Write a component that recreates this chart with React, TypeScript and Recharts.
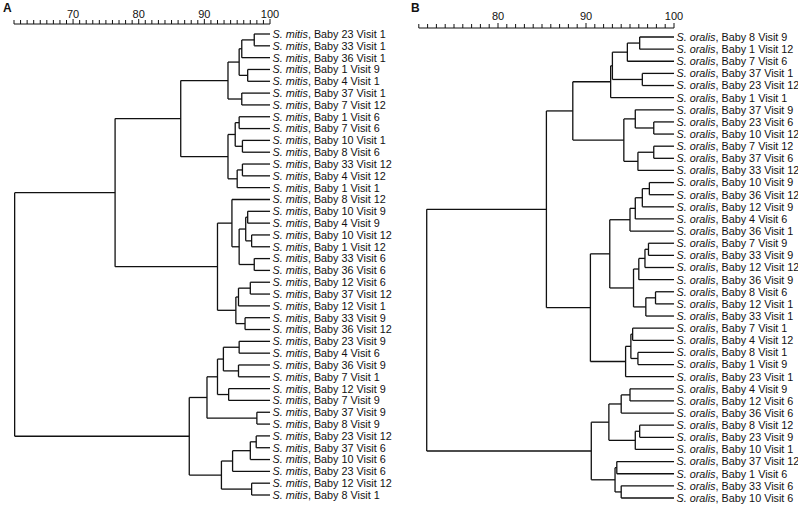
import React from 'react';
import { ScatterChart, Scatter, XAxis, YAxis, ReferenceLine } from 'recharts';

// ---------- Panel A: S. mitis ----------
const speciesA = 'S. mitis';
const leavesA = [
  'Baby 23 Visit 1', 'Baby 33 Visit 1', 'Baby 36 Visit 1', 'Baby 1 Visit 9', 'Baby 4 Visit 1',
  'Baby 37 Visit 1', 'Baby 7 Visit 12', 'Baby 1 Visit 6', 'Baby 7 Visit 6', 'Baby 10 Visit 1',
  'Baby 8 Visit 6', 'Baby 33 Visit 12', 'Baby 4 Visit 12', 'Baby 1 Visit 1', 'Baby 8 Visit 12',
  'Baby 10 Visit 9', 'Baby 4 Visit 9', 'Baby 10 Visit 12', 'Baby 1 Visit 12', 'Baby 33 Visit 6',
  'Baby 36 Visit 6', 'Baby 12 Visit 6', 'Baby 37 Visit 12', 'Baby 12 Visit 1', 'Baby 33 Visit 9',
  'Baby 36 Visit 12', 'Baby 23 Visit 9', 'Baby 4 Visit 6', 'Baby 36 Visit 9', 'Baby 7 Visit 1',
  'Baby 12 Visit 9', 'Baby 7 Visit 9', 'Baby 37 Visit 9', 'Baby 8 Visit 9', 'Baby 23 Visit 12',
  'Baby 37 Visit 6', 'Baby 10 Visit 6', 'Baby 23 Visit 6', 'Baby 12 Visit 12', 'Baby 8 Visit 1',
];
// [child a, child b, similarity %]; leaves are 0..n-1, merge k creates node n+k
const mergesA: [number, number, number][] = [
  [0, 1, 97.6], [40, 2, 95.7], [3, 4, 96.6], [41, 42, 95.3], [5, 6, 95.7],
  [43, 44, 93.6], [7, 8, 95.3], [9, 10, 95.8], [46, 47, 94.7], [11, 12, 95.8],
  [49, 13, 95.0], [48, 50, 93.6], [45, 51, 86.4], [15, 16, 96.6], [17, 18, 97.2],
  [53, 54, 96.3], [19, 20, 97.6], [55, 56, 95.3], [14, 57, 94.2], [21, 22, 97.0],
  [59, 23, 95.2], [24, 25, 96.2], [60, 61, 94.8], [58, 62, 92.0], [52, 63, 76.4],
  [26, 27, 95.3], [28, 29, 95.2], [65, 66, 92.9], [30, 31, 93.7], [67, 68, 92.0],
  [32, 33, 98.0], [69, 70, 90.4], [34, 35, 97.9], [72, 36, 97.0], [73, 37, 94.3],
  [38, 39, 97.2], [74, 75, 92.6], [71, 76, 87.7], [64, 77, 61.1],
];
const axisMinA = 61;
const tickLabelsA = [70, 80, 90, 100];

// ---------- Panel B: S. oralis ----------
const speciesB = 'S. oralis';
const leavesB = [
  'Baby 8 Visit 9', 'Baby 1 Visit 12', 'Baby 7 Visit 6', 'Baby 37 Visit 1', 'Baby 23 Visit 12',
  'Baby 1 Visit 1', 'Baby 37 Visit 9', 'Baby 23 Visit 6', 'Baby 10 Visit 12', 'Baby 7 Visit 12',
  'Baby 37 Visit 6', 'Baby 33 Visit 12', 'Baby 10 Visit 9', 'Baby 36 Visit 12', 'Baby 12 Visit 9',
  'Baby 4 Visit 6', 'Baby 36 Visit 1', 'Baby 7 Visit 9', 'Baby 33 Visit 9', 'Baby 12 Visit 12',
  'Baby 36 Visit 9', 'Baby 8 Visit 6', 'Baby 12 Visit 1', 'Baby 33 Visit 1', 'Baby 7 Visit 1',
  'Baby 4 Visit 12', 'Baby 8 Visit 1', 'Baby 1 Visit 9', 'Baby 23 Visit 1', 'Baby 4 Visit 9',
  'Baby 12 Visit 6', 'Baby 36 Visit 6', 'Baby 8 Visit 12', 'Baby 23 Visit 9', 'Baby 10 Visit 1',
  'Baby 37 Visit 12', 'Baby 1 Visit 6', 'Baby 33 Visit 6', 'Baby 10 Visit 6',
];
const mergesB: [number, number, number][] = [
  [0, 1, 96.1], [39, 2, 94.7], [3, 4, 96.4], [40, 41, 93.0], [42, 5, 92.8],
  [7, 8, 97.7], [6, 44, 95.6], [9, 10, 97.7], [46, 11, 95.9], [45, 47, 94.3],
  [43, 48, 88.5], [12, 13, 97.2], [50, 14, 96.4], [51, 15, 95.6], [52, 16, 95.0],
  [17, 18, 97.1], [54, 19, 96.7], [55, 20, 96.0], [21, 22, 97.9], [57, 23, 96.8],
  [56, 58, 95.4], [53, 59, 92.7], [24, 25, 95.3], [26, 27, 95.9], [61, 62, 95.1],
  [63, 28, 94.5], [60, 64, 90.5], [49, 65, 85.5], [29, 30, 95.0], [67, 31, 94.0],
  [32, 33, 96.1], [69, 34, 95.6], [68, 70, 92.6], [35, 36, 93.5], [37, 38, 94.0],
  [72, 73, 93.3], [71, 74, 90.6], [66, 75, 71.9],
];
const axisMinB = 71;
const tickLabelsB = [80, 90, 100];

const FONT = '"Liberation Sans", Arial, Helvetica, sans-serif';
const INK = '#111';

type Pt = { x: number; y: number };

function buildSegments(leaves: string[], merges: [number, number, number][]) {
  const xs: number[] = leaves.map(() => 100);
  const ys: number[] = leaves.map((_, i) => i);
  const segs: [Pt, Pt][] = [];
  merges.forEach(([a, b, h]) => {
    segs.push([{ x: h, y: ys[a] }, { x: h, y: ys[b] }]);
    segs.push([{ x: xs[a], y: ys[a] }, { x: h, y: ys[a] }]);
    segs.push([{ x: xs[b], y: ys[b] }, { x: h, y: ys[b] }]);
    xs.push(h);
    ys.push((ys[a] + ys[b]) / 2);
  });
  return segs;
}

type PanelProps = {
  species: string;
  leaves: string[];
  merges: [number, number, number][];
  axisMin: number;
  tickLabels: number[];
  width: number;
  height: number;
  marginLeft: number;
  marginRight: number;
  axisHeight: number;
  yDomain: [number, number];
  labelOffset: number;
};

function Panel(p: PanelProps) {
  const segs = buildSegments(p.leaves, p.merges);
  const leafData = p.leaves.map((label, i) => ({ x: 100, y: i, label }));
  const ticks: number[] = [];
  for (let v = p.axisMin; v <= 100; v++) ticks.push(v);

  const renderTick = (props: any) => {
    const { x, y, payload } = props;
    const v = payload.value;
    const len = v % 10 === 0 ? 5 : 4;
    return (
      <g>
        <line x1={x} x2={x} y1={y} y2={y - len} stroke={INK} strokeWidth={1} />
        {p.tickLabels.includes(v) && (
          <text x={x} y={y - p.labelOffset} textAnchor="middle" fontSize={11} fontFamily={FONT} fill={INK}>
            {v}
          </text>
        )}
      </g>
    );
  };

  const renderLabel = (props: any) => {
    const { cx, cy, payload } = props;
    return (
      <text x={cx + 2.5} y={cy} dy="0.36em" fontSize={10.8} fontFamily={FONT} fill={INK}>
        <tspan fontStyle="italic">{p.species}</tspan>
        <tspan>{', ' + payload.label}</tspan>
      </text>
    );
  };

  return (
    <ScatterChart
      width={p.width}
      height={p.height}
      margin={{ top: 0, right: p.marginRight, bottom: 0, left: p.marginLeft }}
    >
      <XAxis
        type="number"
        dataKey="x"
        orientation="top"
        domain={[p.axisMin, 100]}
        ticks={ticks}
        interval={0}
        tickSize={0}
        tickMargin={0}
        tickLine={false}
        height={p.axisHeight}
        axisLine={{ stroke: INK, strokeWidth: 1 }}
        tick={renderTick}
      />
      <YAxis type="number" dataKey="y" domain={p.yDomain} reversed hide />
      {segs.map((s, i) => (
        <ReferenceLine key={i} segment={s} stroke={INK} strokeWidth={1.3} ifOverflow="visible" />
      ))}
      <Scatter data={leafData} isAnimationActive={false} shape={renderLabel} />
    </ScatterChart>
  );
}

export default function App() {
  return (
    <div style={{ position: 'absolute', left: 0, top: 0, width: 798, height: 506, background: '#fff' }}>
      <div style={{ position: 'absolute', left: 0, top: 0 }}>
        <Panel
          species={speciesA}
          leaves={leavesA}
          merges={mergesA}
          axisMin={axisMinA}
          tickLabels={tickLabelsA}
          width={400}
          height={506}
          marginLeft={14}
          marginRight={130}
          axisHeight={24}
          yDomain={[-0.846, 39.93]}
          labelOffset={6}
        />
      </div>
      <div style={{ position: 'absolute', left: 400, top: 0 }}>
        <Panel
          species={speciesB}
          leaves={leavesB}
          merges={mergesB}
          axisMin={axisMinB}
          tickLabels={tickLabelsB}
          width={398}
          height={506}
          marginLeft={18.8}
          marginRight={124}
          axisHeight={28}
          yDomain={[-0.742, 38.66]}
          labelOffset={8.5}
        />
      </div>
      <svg width={798} height={506} style={{ position: 'absolute', left: 0, top: 0, pointerEvents: 'none' }}>
        <text x={3} y={12} fontSize={12} fontWeight="bold" fontFamily={FONT} fill={INK}>A</text>
        <text x={411} y={12} fontSize={12} fontWeight="bold" fontFamily={FONT} fill={INK}>B</text>
      </svg>
    </div>
  );
}
